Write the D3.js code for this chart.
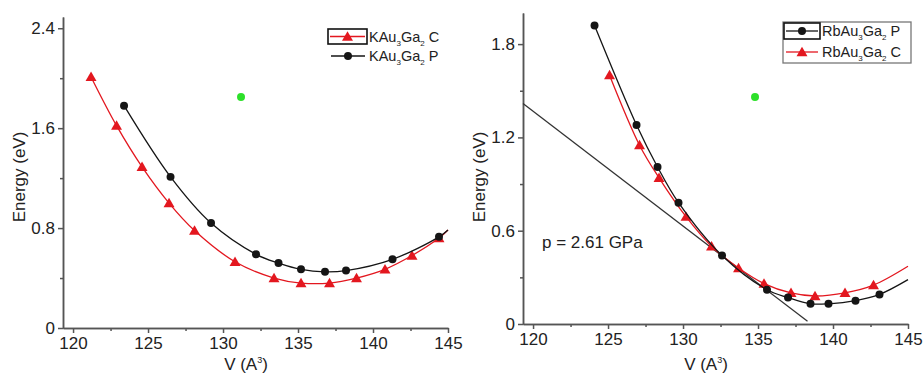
<!DOCTYPE html>
<html>
<head>
<meta charset="utf-8">
<script src="https://cdn.jsdelivr.net/npm/d3@7"></script>
<style>
  body { margin: 0; background: #fff; }
  svg { font-family: "Liberation Sans", Arial, sans-serif; }
  .axis path, .axis line { stroke: #555; stroke-width: 1.5; }
  .axis text { font-size: 17px; fill: #222; }
</style>
</head>
<body>
<svg id="chart" width="923" height="377"></svg>
<script>
// --- data ---
// left panel: KAu3Ga2
const kC_V = [121.2, 122.9, 124.6, 126.4, 128.1, 130.8, 133.4, 135.2, 137.1, 138.9, 140.8, 142.6, 144.4];
const kC_E = [2.01, 1.62, 1.29, 1.00, 0.78, 0.53, 0.40, 0.36, 0.36, 0.40, 0.47, 0.58, 0.72];
const kP_V = [123.4, 126.5, 129.2, 132.2, 133.7, 135.2, 136.8, 138.2, 141.3, 144.4];
const kP_E = [1.78, 1.21, 0.84, 0.59, 0.52, 0.47, 0.45, 0.46, 0.55, 0.73];
const kTail = [145, 0.785];
const kGreen = [131.2, 1.85];

// right panel: RbAu3Ga2
const rP_V = [124.1, 126.9, 128.3, 129.7, 132.6, 135.6, 137.0, 138.5, 139.7, 141.5, 143.1];
const rP_E = [1.92, 1.28, 1.01, 0.78, 0.44, 0.22, 0.17, 0.13, 0.13, 0.15, 0.19];
const rC_V = [125.1, 127.1, 128.4, 130.2, 131.9, 133.7, 135.4, 137.2, 138.8, 140.8, 142.7];
const rC_E = [1.60, 1.15, 0.94, 0.69, 0.50, 0.36, 0.26, 0.20, 0.18, 0.20, 0.25];
const rP_tail = [145, 0.285];
const rC_tail = [145, 0.371];
const rGreen = [134.8, 1.46];
const tangentV = [119.33, 138.3];
const tangentE = [1.418, 0.017];

const xMajor = [120, 125, 130, 135, 140, 145];
const xMinor = [122.5, 127.5, 132.5, 137.5, 142.5];
const kYMajor = [0, 0.8, 1.6, 2.4];
const kYMinor = [0.4, 1.2, 2.0];
const rYMajor = [0, 0.6, 1.2, 1.8];
const rYMinor = [0.3, 0.9, 1.5];

const RED = "#e3171f", BLACK = "#151515";

const svg = d3.select("#chart");

function zip(a, b) { return a.map((v, i) => [v, b[i]]); }

function panel(o) {
  const x = d3.scaleLinear().domain([119.33, 145]).range([o.left, o.left + 385]);
  const y = d3.scaleLinear().domain([0, o.yMax]).range([o.bottom, o.top]);
  const g = svg.append("g");

  // axes (major + minor ticks, outward)
  g.append("g").attr("class", "axis").attr("transform", `translate(0,${o.bottom})`)
    .call(d3.axisBottom(x).tickValues(xMinor).tickSize(3).tickSizeOuter(0).tickFormat(""));
  g.append("g").attr("class", "axis").attr("transform", `translate(0,${o.bottom})`)
    .call(d3.axisBottom(x).tickValues(xMajor).tickSize(5).tickSizeOuter(0).tickPadding(4).tickFormat(d3.format("d")));
  g.append("g").attr("class", "axis").attr("transform", `translate(${o.left},0)`)
    .call(d3.axisLeft(y).tickValues(o.yMinor).tickSize(3).tickSizeOuter(0).tickFormat(""));
  g.append("g").attr("class", "axis").attr("transform", `translate(${o.left},0)`)
    .call(d3.axisLeft(y).tickValues(o.yMajor).tickSize(5).tickSizeOuter(0).tickPadding(3)
      .tickFormat(d => d === 0 ? "0" : d3.format(".1f")(d)));

  // axis titles
  g.append("text").attr("transform", `translate(${o.left - 38},177) rotate(-90)`)
    .attr("text-anchor", "middle").style("font-size", "17px").attr("fill", "#222").text("Energy (eV)");
  const xt = g.append("text").attr("x", o.left + 183).attr("y", 370)
    .attr("text-anchor", "middle").style("font-size", "17px").attr("fill", "#222");
  xt.append("tspan").text("V (A");
  xt.append("tspan").attr("dy", -7).style("font-size", "9px").text("3");
  xt.append("tspan").attr("dy", 7).text(")");

  const line = d3.line().x(d => x(d[0])).y(d => y(d[1])).curve(d3.curveCatmullRom);
  return { g, x, y, line };
}

function drawSeries(p, pts, tail, color, marker) {
  p.g.append("path").attr("d", p.line(pts.concat([tail])))
    .attr("fill", "none").attr("stroke", color).attr("stroke-width", 1.3);
  const sym = d3.symbol().type(marker === "tri" ? d3.symbolTriangle : d3.symbolCircle)
    .size(marker === "tri" ? 52 : 50);
  p.g.selectAll(null).data(pts).join("path")
    .attr("transform", d => `translate(${p.x(d[0])},${p.y(d[1]) + (marker === "tri" ? 1 : 0)})`)
    .attr("d", sym).attr("fill", color);
}

function legendLabel(g, x, y, base, rest) {
  const t = g.append("text").attr("x", x).attr("y", y).style("font-size", "14.5px").attr("fill", "#222");
  t.append("tspan").text(base + "Au");
  t.append("tspan").attr("dy", 4).style("font-size", "8px").text("3");
  t.append("tspan").attr("dy", -4).text("Ga");
  t.append("tspan").attr("dy", 4).style("font-size", "8px").text("2");
  t.append("tspan").attr("dy", -4).text(" " + rest);
}

function legendSymbol(g, x1, x2, y, color, marker) {
  g.append("line").attr("x1", x1).attr("x2", x2).attr("y1", y).attr("y2", y)
    .attr("stroke", color).attr("stroke-width", 1.3);
  g.append("path").attr("transform", `translate(${(x1 + x2) / 2},${y + (marker === "tri" ? 1 : 0)})`)
    .attr("d", d3.symbol().type(marker === "tri" ? d3.symbolTriangle : d3.symbolCircle)
      .size(marker === "tri" ? 52 : 50)).attr("fill", color);
}

// ---------- left panel ----------
const L = panel({ left: 63, top: 17, bottom: 328, yMax: 2.49, yMajor: kYMajor, yMinor: kYMinor });
drawSeries(L, zip(kC_V, kC_E), kTail, RED, "tri");
drawSeries(L, zip(kP_V, kP_E), kTail, BLACK, "circle");
L.g.append("circle").attr("cx", L.x(kGreen[0])).attr("cy", L.y(kGreen[1])).attr("r", 4).attr("fill", "#2de02a");

L.g.append("rect").attr("x", 328).attr("y", 29).attr("width", 39).attr("height", 15)
  .attr("fill", "none").attr("stroke", "#111").attr("stroke-width", 1.6);
legendSymbol(L.g, 330, 365, 36.5, RED, "tri");
legendLabel(L.g, 369, 42, "K", "C");
legendSymbol(L.g, 331, 365, 56, BLACK, "circle");
legendLabel(L.g, 369, 61, "K", "P");

// ---------- right panel ----------
const R = panel({ left: 523, top: 13, bottom: 324, yMax: 2.0, yMajor: rYMajor, yMinor: rYMinor });
R.g.append("line")
  .attr("x1", R.x(tangentV[0])).attr("y1", R.y(tangentE[0]))
  .attr("x2", R.x(tangentV[1])).attr("y2", R.y(tangentE[1]))
  .attr("stroke", "#333").attr("stroke-width", 1.3);
drawSeries(R, zip(rC_V, rC_E), rC_tail, RED, "tri");
drawSeries(R, zip(rP_V, rP_E), rP_tail, BLACK, "circle");
R.g.append("circle").attr("cx", R.x(rGreen[0])).attr("cy", R.y(rGreen[1])).attr("r", 4).attr("fill", "#2de02a");
R.g.append("text").attr("x", 542).attr("y", 248).style("font-size", "17px").attr("fill", "#222").text("p = 2.61 GPa");

R.g.append("rect").attr("x", 783).attr("y", 22).attr("width", 128).attr("height", 41)
  .attr("fill", "none").attr("stroke", "#777").attr("stroke-width", 1.3);
R.g.append("rect").attr("x", 784).attr("y", 23).attr("width", 36).attr("height", 16)
  .attr("fill", "none").attr("stroke", "#111").attr("stroke-width", 1.6);
legendSymbol(R.g, 786, 818, 31, BLACK, "circle");
legendLabel(R.g, 822, 36, "Rb", "P");
legendSymbol(R.g, 786, 818, 52, RED, "tri");
legendLabel(R.g, 822, 57, "Rb", "C");
</script>
</body>
</html>
